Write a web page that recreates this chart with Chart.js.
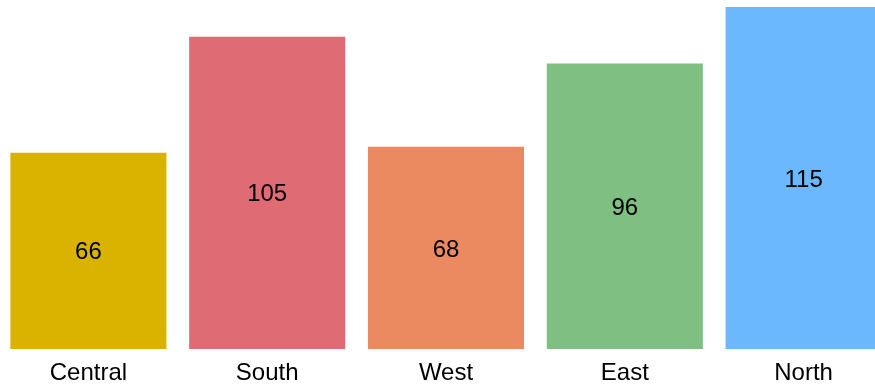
<!DOCTYPE html>
<html>
<head>
<meta charset="utf-8">
<script src="https://cdn.jsdelivr.net/npm/chart.js@4"></script>
<style>
  html, body { margin: 0; padding: 0; background: #fff; overflow: hidden; }
  #wrap { position: absolute; left: -1px; top: 0; width: 894px; height: 385px; }
</style>
</head>
<body>
<div id="wrap"><canvas id="chart"></canvas></div>
<script>
// datos del grafico
const regions = ['Central', 'South', 'West', 'East', 'North'];
const sales = [66, 105, 68, 96, 115];
const barColors = ['#DAB300', '#DF6B74', '#EB8A60', '#7FBF82', '#6CB8FF'];

const fontFamily = '"Liberation Sans", Arial, sans-serif';

// etiqueta con el valor en el centro de cada barra
const centerLabels = {
    id: 'centerLabels',
    afterDatasetsDraw(chart) {
        const ctx = chart.ctx;
        const meta = chart.getDatasetMeta(0);
        ctx.save();
        ctx.font = '24px ' + fontFamily;
        ctx.fillStyle = '#000';
        ctx.textAlign = 'center';
        ctx.textBaseline = 'middle';
        meta.data.forEach((bar, i) => {
            const { x, y, base } = bar.getProps(['x', 'y', 'base'], true);
            ctx.fillText(String(sales[i]), x, (y + base) / 2 + 2);
        });
        ctx.restore();
    }
};

new Chart(document.getElementById('chart'), {
    type: 'bar',
    data: {
        labels: regions,
        datasets: [{
            data: sales,
            backgroundColor: barColors,
            borderWidth: 0,
            categoryPercentage: 1,
            barPercentage: 0.873
        }]
    },
    options: {
        responsive: true,
        maintainAspectRatio: false,
        animation: false,
        layout: { padding: { top: 7, bottom: 0, left: 0, right: 0 } },
        plugins: { legend: { display: false }, tooltip: { enabled: false } },
        scales: {
            x: {
                grid: { display: false, drawTicks: false },
                border: { display: false },
                afterFit(scale) { scale.height = 36; },
                ticks: {
                    color: '#000',
                    padding: 10,
                    font: { family: fontFamily, size: 24 }
                }
            },
            y: { display: false, min: 0, max: 115 }
        }
    },
    plugins: [centerLabels]
});
</script>
</body>
</html>
